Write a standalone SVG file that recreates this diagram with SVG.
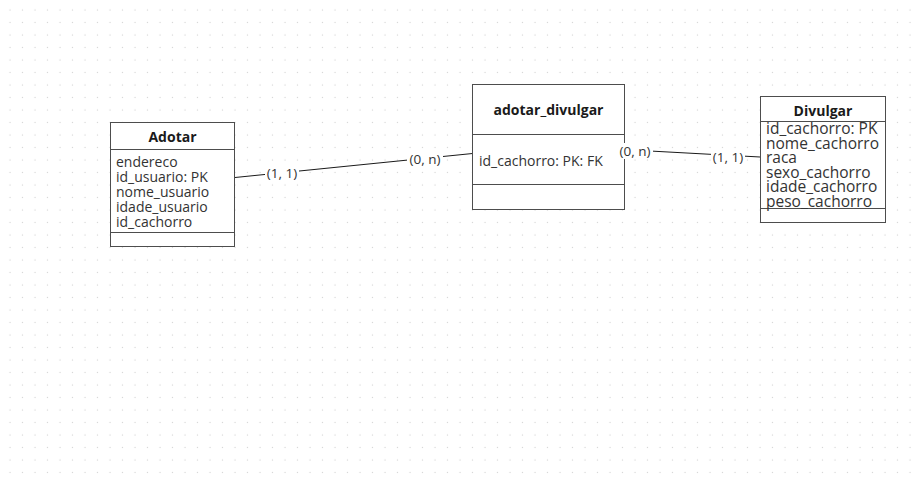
<svg xmlns="http://www.w3.org/2000/svg" width="921" height="481" viewBox="0 0 921 481">
<defs>
<pattern id="grid" x="0" y="0" width="12.5" height="12.5" patternUnits="userSpaceOnUse">
<rect x="9.5" y="9.5" width="1" height="1" fill="#c8c8c8"/>
</pattern>
<style>
.box{fill:#ffffff;stroke:#4d4d4d;stroke-width:1}
.sep{stroke:#4d4d4d;stroke-width:1}
.title{font-family:"Open Sans","Noto Sans",sans-serif;font-size:14px;font-weight:bold;fill:#1a1a1a;text-anchor:middle}
.attr{font-family:"Open Sans","Noto Sans",sans-serif;font-size:14px;fill:#333333}
.attr-l{font-family:"Open Sans","Noto Sans",sans-serif;font-size:15.5px;fill:#333333}
.lbl{font-family:"Open Sans","Noto Sans",sans-serif;font-size:13.5px;fill:#333333;text-anchor:middle}
.lblbg{fill:#ffffff}
.edge{stroke:#1a1a1a;stroke-width:1;fill:none}
</style>
</defs>
<rect width="921" height="481" fill="#ffffff"/>
<rect width="921" height="481" fill="url(#grid)"/>

<g id="connectors">
<line class="edge" x1="235" y1="177.5" x2="472.5" y2="153.5"/>
<line class="edge" x1="604" y1="148.5" x2="760" y2="157"/>
</g>

<g id="adotar">
<rect class="box" x="110.5" y="122.5" width="124" height="124"/>
<line class="sep" x1="110.5" y1="149.5" x2="234.5" y2="149.5"/>
<line class="sep" x1="110.5" y1="232.5" x2="234.5" y2="232.5"/>
<text class="title" x="172.5" y="142">Adotar</text>
<text class="attr" x="116" y="167">endereco</text>
<text class="attr" x="116" y="182">id_usuario: PK</text>
<text class="attr" x="116" y="197">nome_usuario</text>
<text class="attr" x="116" y="212">idade_usuario</text>
<text class="attr" x="116" y="227">id_cachorro</text>
</g>

<g id="adotar_divulgar">
<rect class="box" x="472.5" y="84.5" width="152" height="125"/>
<line class="sep" x1="472.5" y1="134.5" x2="624.5" y2="134.5"/>
<line class="sep" x1="472.5" y1="184.5" x2="624.5" y2="184.5"/>
<text class="title" x="548.5" y="115">adotar_divulgar</text>
<text class="attr" x="479" y="165.5">id_cachorro: PK: FK</text>
</g>

<g id="divulgar">
<rect class="box" x="760.5" y="96.5" width="125" height="126"/>
<line class="sep" x1="760.5" y1="121.5" x2="885.5" y2="121.5"/>
<line class="sep" x1="760.5" y1="208.5" x2="885.5" y2="208.5"/>
<text class="title" x="823" y="116">Divulgar</text>
<text class="attr-l" x="766" y="134">id_cachorro: PK</text>
<text class="attr-l" x="766" y="148.5">nome_cachorro</text>
<text class="attr-l" x="766" y="163">raca</text>
<text class="attr-l" x="766" y="177.5">sexo_cachorro</text>
<text class="attr-l" x="766" y="192">idade_cachorro</text>
<text class="attr-l" x="766" y="206.5">peso_cachorro</text>
</g>

<g id="labels">
<rect class="lblbg" x="265" y="165" width="34" height="16"/>
<text class="lbl" x="282" y="178">(1, 1)</text>
<rect class="lblbg" x="407" y="151" width="36" height="16"/>
<text class="lbl" x="425" y="164">(0, n)</text>
<rect class="lblbg" x="617" y="143" width="36" height="16"/>
<text class="lbl" x="635" y="156">(0, n)</text>
<rect class="lblbg" x="711" y="149" width="34" height="16"/>
<text class="lbl" x="728" y="162">(1, 1)</text>
</g>
</svg>
